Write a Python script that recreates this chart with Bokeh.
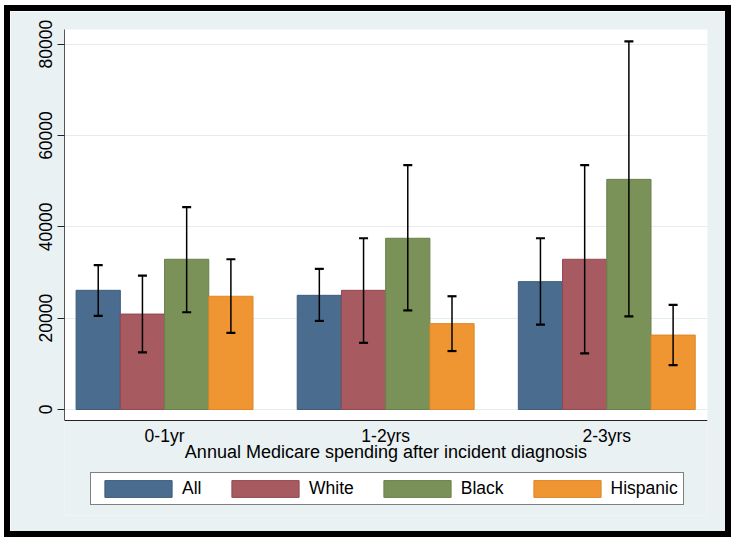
from bokeh.plotting import figure
from bokeh.models import (ColumnDataSource, Range1d, FixedTicker, Whisker, TeeHead,
                          Legend, LegendItem, BoxAnnotation, LinearAxis)
from bokeh.embed import file_html
from bokeh.resources import INLINE

# ---- data ----
periods = ["0-1yr", "1-2yrs", "2-3yrs"]
groups = ["All", "White", "Black", "Hispanic"]

mean_all = [26100, 25000, 28000]
mean_white = [20900, 26100, 32900]
mean_black = [32900, 37500, 50400]
mean_hispanic = [24800, 18800, 16300]

upper_all = [31600, 30800, 37500]
upper_white = [29300, 37500, 53500]
upper_black = [44300, 53500, 80600]
upper_hispanic = [32900, 24800, 22900]

lower_all = [20500, 19400, 18600]
lower_white = [12500, 14600, 12300]
lower_black = [21300, 21700, 20400]
lower_hispanic = [16800, 12800, 9700]

y_ticks = [0, 20000, 40000, 60000, 80000]
x_title = "Annual Medicare spending after incident diagnosis"

means = [mean_all, mean_white, mean_black, mean_hispanic]
uppers = [upper_all, upper_white, upper_black, upper_hispanic]
lowers = [lower_all, lower_white, lower_black, lower_hispanic]

colors = ["#4A6C8F", "#A75A60", "#7A9257", "#EF9633"]
edges = ["#3E5C7C", "#93494F", "#68804A", "#DD8628"]

FONT = "Liberation Sans"
BG = "#E9F1F3"

# axis layout (y value where the x axis sits, top of the value range, and
# extra room below the axis that holds the tick labels, title and legend)
Y_AXIS_AT = -2410
Y_TOP = 83220
Y_BOTTOM = -23215

p = figure(width=727, height=532, output_backend="svg", toolbar_location=None,
           x_range=Range1d(0.5475, 3.4555), y_range=Range1d(Y_BOTTOM, Y_TOP),
           x_axis_location=None, y_axis_location=None,
           min_border_left=54, min_border_right=30, min_border_top=18, min_border_bottom=28)
p.styles = {"border": "6px solid black", "margin-left": "4px", "margin-top": "5px"}
p.background_fill_color = BG
p.border_fill_color = BG
p.outline_line_color = None

# white plot region above the x axis
p.add_layout(BoxAnnotation(bottom=Y_AXIS_AT, fill_color="white", fill_alpha=1,
                           line_color=None, level="image"))

bar_w = 0.2
offsets = [-0.3, -0.1, 0.1, 0.3]
items = []
for i, g in enumerate(groups):
    xs = [k + 1 + offsets[i] for k in range(len(periods))]
    src = ColumnDataSource(dict(x=xs, top=means[i], upper=uppers[i], lower=lowers[i]))
    r = p.vbar(x="x", top="top", bottom=0, width=bar_w, source=src,
               fill_color=colors[i], line_color=edges[i], line_width=1)
    items.append(LegendItem(label=g, renderers=[r]))
    p.add_layout(Whisker(source=src, base="x", upper="upper", lower="lower", level="overlay",
                         line_color="black", line_width=1.5,
                         upper_head=TeeHead(size=9, line_width=2.2, line_color="black"),
                         lower_head=TeeHead(size=9, line_width=2.2, line_color="black")))

# y axis
yax = LinearAxis(ticker=FixedTicker(ticks=y_ticks), bounds=(Y_AXIS_AT, Y_TOP))
yax.major_label_orientation = "vertical"
yax.major_label_text_font = FONT
yax.major_label_text_font_size = "17.5px"
yax.major_label_text_color = "black"
yax.major_tick_out = 7
yax.major_tick_in = 0
yax.major_tick_line_color = "#222222"
yax.minor_tick_line_color = None
yax.axis_line_color = "#555555"
yax.major_label_standoff = 5
p.add_layout(yax, "left")

# x axis, drawn at the bottom of the value range
xax = LinearAxis(ticker=FixedTicker(ticks=[1, 2, 3]), fixed_location=Y_AXIS_AT)
xax.major_label_overrides = {k + 1: lab for k, lab in enumerate(periods)}
xax.major_label_text_font = FONT
xax.major_label_text_font_size = "17.5px"
xax.major_label_text_color = "black"
xax.major_tick_line_color = None
xax.major_tick_out = 0
xax.major_tick_in = 0
xax.minor_tick_line_color = None
xax.axis_line_color = "#222222"
xax.major_label_standoff = 5
xax.axis_label = x_title
xax.axis_label_text_font = FONT
xax.axis_label_text_font_size = "18px"
xax.axis_label_text_font_style = "normal"
xax.axis_label_text_color = "black"
xax.axis_label_standoff = -7
p.add_layout(xax, "below")

p.xgrid.grid_line_color = None
p.ygrid.ticker = FixedTicker(ticks=y_ticks)
p.ygrid.grid_line_color = "#E3EDF0"
p.ygrid.grid_line_width = 1

legend = Legend(items=items, orientation="horizontal", location=(26, 10),
                glyph_width=84, glyph_height=21, label_standoff=2, spacing=21,
                padding=5, margin=0, border_line_color="black", border_line_width=1,
                background_fill_color="white", background_fill_alpha=1,
                label_text_font=FONT, label_text_font_size="17.5px", label_text_color="black")
p.add_layout(legend, "center")

open("out.html", "w").write(file_html(p, INLINE))
